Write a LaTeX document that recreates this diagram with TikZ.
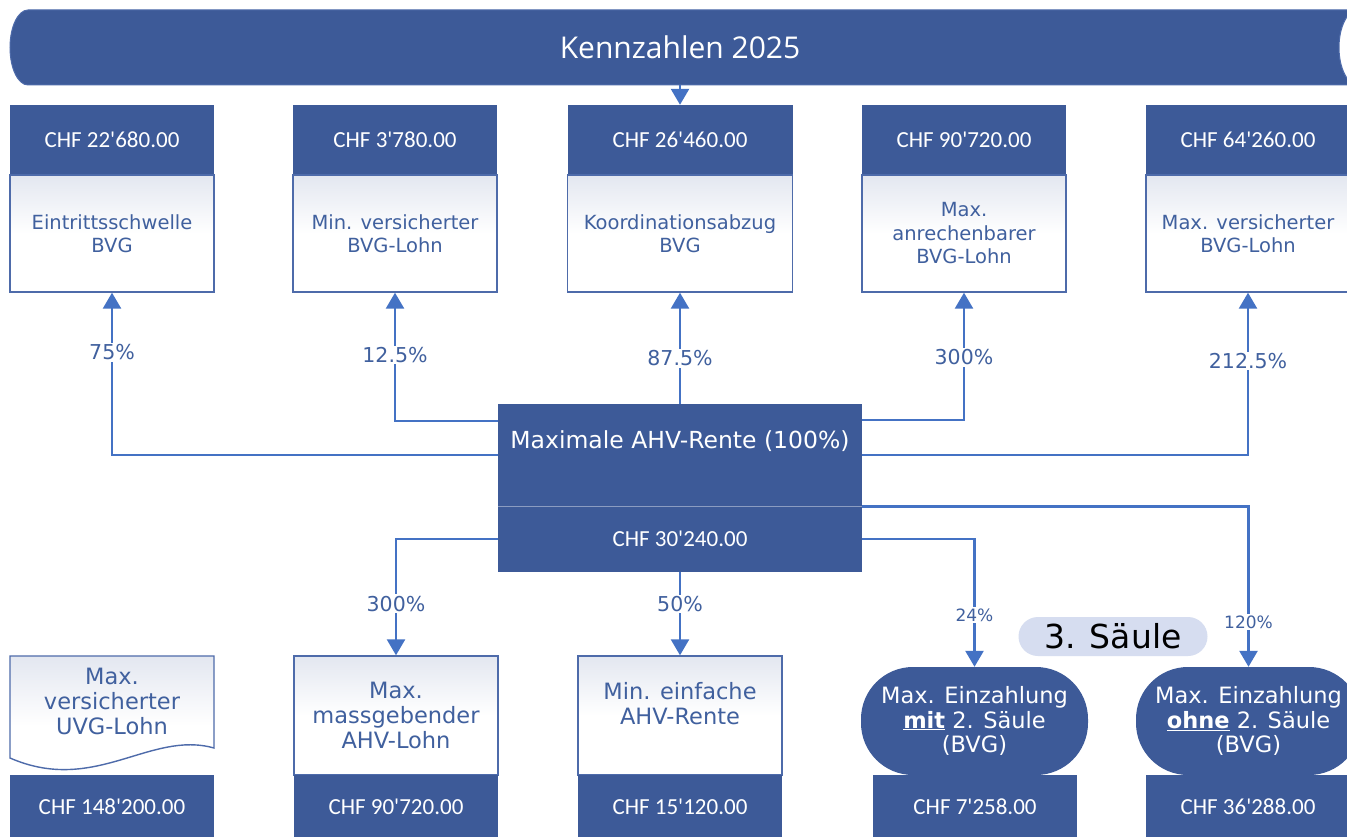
\documentclass[tikz,border=0pt]{standalone}
\usepackage{fontspec}
\setmainfont{DejaVu Sans}
\newfontfamily\chf{Carlito}
\newfontfamily\titel{Open Sans}
\usetikzlibrary{arrows.meta}
\definecolor{navy}{HTML}{3D5A98}
\definecolor{linie}{HTML}{4472C4}
\definecolor{schrift}{HTML}{40609E}
\definecolor{rahmen}{HTML}{4E6BAA}
\definecolor{schatten}{HTML}{E3E7F0}
\definecolor{pille}{HTML}{D6DDF0}
\newcommand{\ap}{\textquotesingle}
\tikzset{
  chfbox/.style={fill=navy, text=white, font=\chf\fontsize{23}{26}\selectfont,
    minimum width=204pt, minimum height=70pt, inner sep=0pt},
  karte/.style={draw=rahmen, line width=1.4pt, top color=schatten, bottom color=white,
    middle color=white, text=schrift, align=center, font=\fontsize{19.5}{23.5}\selectfont,
    minimum width=204pt, minimum height=117pt, inner sep=0pt},
  unten/.style={karte, minimum height=119pt, font=\fontsize{22.5}{25}\selectfont},
  topf/.style={fill=navy, text=white, align=center, rounded corners=52pt,
    minimum width=227pt, minimum height=108pt, inner sep=0pt, font=\fontsize{22.5}{24.5}\selectfont},
  arr/.style={draw=linie, line width=2.6pt, -{Triangle[length=16pt,width=18pt]}},
  pct/.style={fill=white, text=schrift, inner sep=1.5pt, font=\fontsize{20.5}{23}\selectfont},
  kpct/.style={pct, font=\fontsize{17}{19}\selectfont}
}
\begin{document}
\begin{tikzpicture}[x=1pt, y=-1pt]
\useasboundingbox (0,0) rectangle (1347,837);
\clip (0,0) rectangle (1347,837);
\fill[white] (0,0) rectangle (1347,837);
% banner
\draw[fill=navy, draw=rahmen, line width=1pt] (28,10) -- (1358,10) -- (1358,85) -- (28,85)
  arc[start angle=90, end angle=270, x radius=18, y radius=37.5] -- cycle;
\draw[fill=white, draw=rahmen, line width=1pt] (1358,47.5) ellipse[x radius=19, y radius=37.5];
\node[font=\titel\fontsize{30}{33}\selectfont, text=white] (kopf) at (680,47) {Kennzahlen 2025};
\coordinate (bannerfuss) at (680,85);
% top row
\node[chfbox] (eintrittchf) at (112,140) {CHF 22\ap 680.00};
\node[karte] (eintritt) at (112,233.5) {Eintrittsschwelle\\BVG};
\node[chfbox] (versichchf) at (395,140) {CHF 3\ap 780.00};
\node[karte] (versich) at (395,233.5) {Min. versicherter\\BVG-Lohn};
\node[chfbox, minimum width=225pt] (koordchf) at (680,140) {CHF 26\ap 460.00};
\node[karte, minimum width=225pt] (koord) at (680,233.5) {Koordinationsabzug\\BVG};
\node[chfbox] (anrechchf) at (964,140) {CHF 90\ap 720.00};
\node[karte] (anrech) at (964,233.5) {Max.\\anrechenbarer\\BVG-Lohn};
\node[chfbox] (maxverschf) at (1248,140) {CHF 64\ap 260.00};
\node[karte] (maxvers) at (1248,233.5) {Max. versicherter\\BVG-Lohn};
\draw[arr] (bannerfuss) -- (koordchf.north);
% middle
\node[chfbox, minimum width=364pt, minimum height=102pt] (rente) at (680,455) {};
\node[chfbox, minimum width=364pt, minimum height=66pt] (rentechf) at (680,539) {CHF 30\ap 240.00};
\node[text=white, font=\fontsize{23.5}{26}\selectfont] (rentetxt) at (680,441) {Maximale AHV-Rente (100\%)};
\draw[white!40!navy, line width=1pt] (rente.south west) -- (rente.south east);
% bottom row
\draw[draw=rahmen, line width=1.4pt, top color=schatten, bottom color=white, middle color=white]
  (10,656) -- (214,656) -- (214,748) .. controls (150,730) and (95,795) .. (10,758) -- cycle;
\node[text=schrift, align=center, font=\fontsize{22.5}{25}\selectfont] (uvg) at (112,701) {Max.\\versicherter\\UVG-Lohn};
\node[chfbox, minimum height=64pt] (uvgchf) at (112,807) {CHF 148\ap 200.00};
\node[unten] (massg) at (396,715.5) {Max.\\massgebender\\AHV-Lohn};
\node[chfbox, minimum height=64pt] (massgchf) at (396,807) {CHF 90\ap 720.00};
\node[unten] (einfach) at (680,715.5) {Min. einfache\\AHV-Rente\\~};
\node[chfbox, minimum height=64pt] (einfachchf) at (680,807) {CHF 15\ap 120.00};
\node[topf] (mit) at (974.5,721) {Max. Einzahlung\\\textbf{\underline{mit}} 2. Säule\\(BVG)};
\node[chfbox, minimum height=64pt] (mitchf) at (975,807) {CHF 7\ap 258.00};
\node[topf, minimum width=225pt] (ohne) at (1248.5,721) {Max. Einzahlung\\\textbf{\underline{ohne}} 2. Säule\\(BVG)};
\node[chfbox, minimum height=64pt] (ohnechf) at (1248,807) {CHF 36\ap 288.00};
\node[fill=pille, rounded corners=19.5pt, minimum width=189pt, minimum height=39pt, inner sep=0pt,
  font=\fontsize{33}{36}\selectfont] (saeule) at (1113,636.5) {3. Säule};
% connectors
\draw[arr] (rente.west) -| node[pct, pos=0.816] {75\%} (eintritt.south);
\draw[arr] ([yshift=-17pt]rente.north west) -| node[pct, pos=0.756] {12.5\%} (versich.south);
\draw[arr] (rente.north) -- node[pct, pos=0.41] {87.5\%} (koord.south);
\draw[arr] ([yshift=-16pt]rente.north east) -| node[pct, pos=0.746] {300\%} (anrech.south);
\draw[arr] (rente.east) -| node[pct, pos=0.79] {212.5\%} (maxvers.south);
\draw[arr] (rentechf.west) -| node[pct, pos=0.778] {300\%} (massg.north);
\draw[arr] (rentechf.south) -- node[pct, pos=0.38] {50\%} (einfach.north);
\draw[arr] (rentechf.east) -| node[kpct, pos=0.797] {24\%} (mit.north);
\draw[arr] (rente.south east) -| node[kpct, pos=0.86] {120\%} (ohne.north);
\end{tikzpicture}
\end{document}
